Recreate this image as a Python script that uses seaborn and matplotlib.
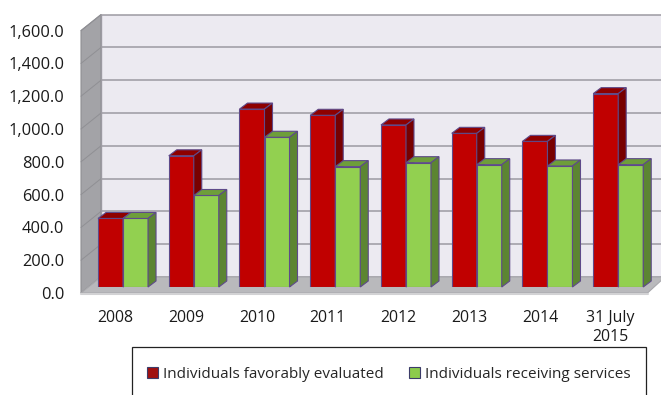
import numpy as np
import pandas as pd
import matplotlib
matplotlib.use("Agg")
import matplotlib.pyplot as plt
import seaborn as sns
from matplotlib.patches import Polygon, Rectangle, Patch

# ---- data ----
categories = ["2008", "2009", "2010", "2011", "2012", "2013", "2014", "31 July\n2015"]
favorably_evaluated = [418, 800, 1085, 1047, 988, 937, 888, 1179]
receiving_services = [418, 558, 913, 734, 758, 746, 738, 746]
series_names = ["Individuals favorably evaluated", "Individuals receiving services"]
y_ticks = [0, 200, 400, 600, 800, 1000, 1200, 1400, 1600]
y_tick_labels = ["0.0", "200.0", "400.0", "600.0", "800.0", "1,000.0", "1,200.0", "1,400.0", "1,600.0"]

df = pd.DataFrame({
    "year": categories * 2,
    "value": favorably_evaluated + receiving_services,
    "series": [series_names[0]] * len(categories) + [series_names[1]] * len(categories),
})

sns.set_style("white")
plt.rcParams["font.family"] = ["Open Sans", "DejaVu Sans"]

W_PX, H_PX = 661, 395
fig = plt.figure(figsize=(W_PX / 100, H_PX / 100), dpi=100)

# bar plane geometry (pixels from top-left)
left_px, right_px, zero_px, top_px = 88.5, 655.0, 287.0, 24.6
ax = fig.add_axes([left_px / W_PX, 1 - zero_px / H_PX,
                   (right_px - left_px) / W_PX, (zero_px - top_px) / H_PX])

face_cols = ["#C00000", "#92D050"]
top_cols = ["#8E0000", "#6E9E3A"]
side_cols = ["#780000", "#5C8532"]
edge_col = "#5E4A8A"

sns.barplot(data=df, x="year", y="value", hue="series", palette=face_cols,
            width=0.707, saturation=1, edgecolor=edge_col, linewidth=0.8,
            legend=False, ax=ax)

xl0, xl1 = -0.488, 7.52
ax.set_xlim(xl0, xl1)
ax.set_ylim(0, 1600)
ax.set_axis_off()

sx = (right_px - left_px) / (xl1 - xl0)      # px per category unit
sy = (zero_px - top_px) / 1600.0              # px per value unit

# offsets (px): back plane and front plane relative to bar plane
bdx, bdy = 12.5 / sx, 10.0 / sy
fdx, fdy = -7.5 / sx, -6.0 / sy

wall_col = "#ECEAF1"
grid_col = "#9C9AA2"

# back wall
ax.add_patch(Polygon([(xl0 + bdx, bdy), (xl1 + 2 * bdx, bdy), (xl1 + 2 * bdx, 1600 + bdy),
                      (xl0 + bdx, 1600 + bdy)], closed=True, facecolor=wall_col,
                     edgecolor="none", clip_on=False, zorder=0))
# left wall
ax.add_patch(Polygon([(xl0 + fdx, fdy), (xl0 + bdx, bdy), (xl0 + bdx, 1600 + bdy),
                      (xl0 + fdx, 1600 + fdy)], closed=True, facecolor="#A3A3A7",
                     edgecolor="#8E8E92", linewidth=0.8, clip_on=False, zorder=0.5))
# gridlines on back wall and left wall
for v in y_ticks:
    ax.plot([xl0 + bdx, xl1 + 2 * bdx], [v + bdy, v + bdy], color=grid_col, lw=1.1,
            clip_on=False, zorder=0.6, solid_capstyle="butt")
    ax.plot([xl0 + fdx, xl0 + bdx], [v + fdy, v + bdy], color="#8F8F94", lw=0.7,
            clip_on=False, zorder=0.6)
ax.plot([xl0 + bdx, xl0 + bdx], [bdy, 1600 + bdy], color=grid_col, lw=1.0,
        clip_on=False, zorder=0.7)
# floor
ax.add_patch(Polygon([(xl0 + fdx, fdy), (xl1 + fdx, fdy), (xl1 + 0.8 * bdx, bdy),
                      (xl0 + bdx, bdy)], closed=True, facecolor="#B9B9BC",
                     edgecolor="#A8A8AC", linewidth=0.8, clip_on=False, zorder=0.8))
ax.plot([xl0 + fdx, xl1 + fdx], [fdy - 1.0 / sy, fdy - 1.0 / sy], color="#D2D2D4", lw=1.5,
        clip_on=False, zorder=0.8)

# 3D faces for bars
ddx, ddy = 8.0 / sx, 6.0 / sy
n = len(categories)
bars = [p for p in ax.patches if isinstance(p, matplotlib.patches.Rectangle)]
for idx, bar in enumerate(bars):
    s = 0 if idx < n else 1
    x0 = bar.get_x(); w = bar.get_width(); h = bar.get_height()
    x1 = x0 + w
    z = 3 + s
    bar.set_zorder(z)
    ax.add_patch(Polygon([(x0, h), (x1, h), (x1 + ddx, h + ddy), (x0 + ddx, h + ddy)],
                         closed=True, facecolor=top_cols[s], edgecolor=edge_col,
                         linewidth=0.8, zorder=z, clip_on=False))
    ax.add_patch(Polygon([(x1, 0), (x1, h), (x1 + ddx, h + ddy), (x1 + ddx, ddy)],
                         closed=True, facecolor=side_cols[s], edgecolor=edge_col,
                         linewidth=0.8, zorder=z, clip_on=False))

# y tick labels at the front plane
for v, lab in zip(y_ticks, y_tick_labels):
    ax.text(xl0 + fdx - 16.5 / sx, v + fdy - 2.0 / sy, lab, ha="right", va="center",
            fontsize=11.8, color="#1A1A1A", clip_on=False)
# x tick labels
for i, lab in enumerate(categories):
    ax.text(i + fdx, fdy - 17.5 / sy, lab, ha="center", va="top",
            fontsize=11.4, color="#1A1A1A", linespacing=1.2, clip_on=False)

# legend frame and legend
fig.patches.append(Rectangle((132 / W_PX, -0.05), (646 - 132) / W_PX, 1 - 347 / H_PX + 0.05,
                             transform=fig.transFigure, facecolor="none",
                             edgecolor="#222222", linewidth=0.9))
handles = [Patch(facecolor="#A01010", edgecolor="#3C3C6A", linewidth=0.8),
           Patch(facecolor="#8CCB4C", edgecolor="#3C3C6A", linewidth=0.8)]
fig.legend(handles, series_names, ncol=2, frameon=False, fontsize=11,
           loc="center left", bbox_to_anchor=(147 / W_PX, 1 - 374 / H_PX),
           handlelength=0.72, handleheight=0.72, handletextpad=0.35,
           columnspacing=1.6, borderaxespad=0, borderpad=0)

fig.savefig("out.png", dpi=100)
